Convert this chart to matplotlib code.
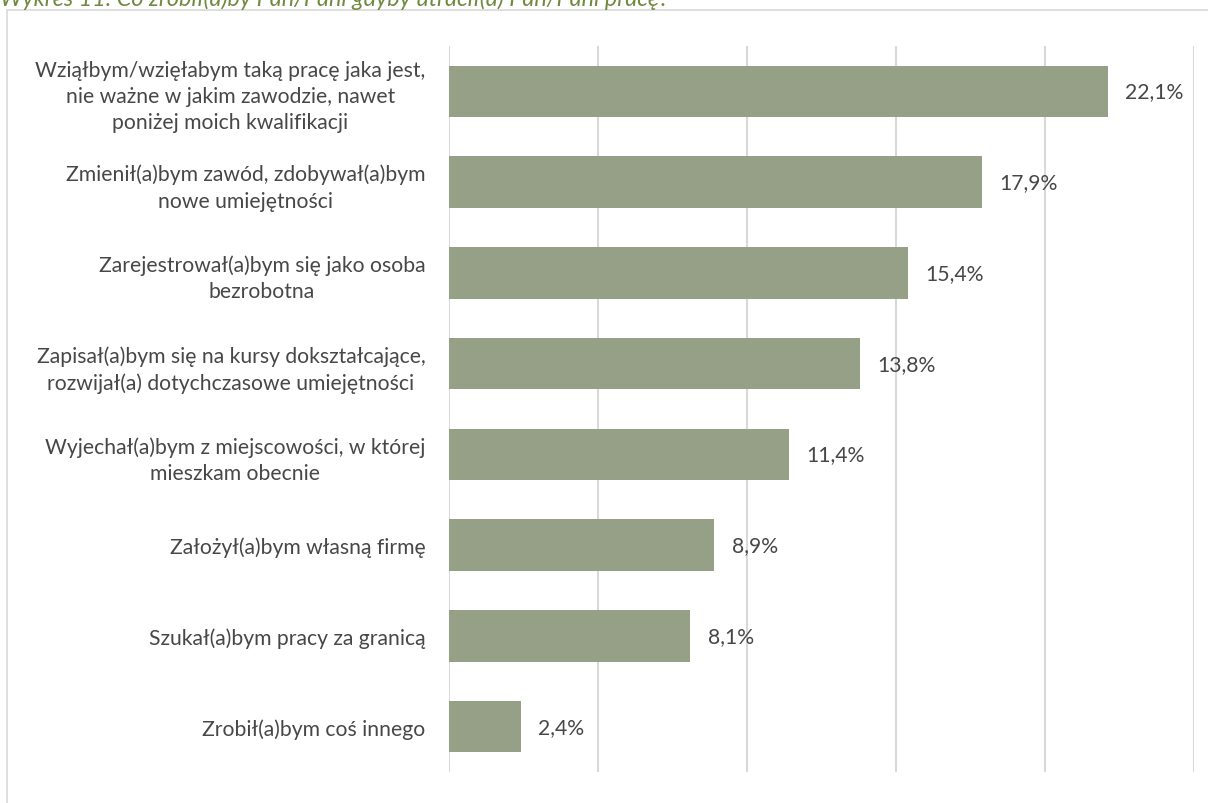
import matplotlib.pyplot as plt
from matplotlib.patches import Rectangle

TITLE = "Wykres 11. Co zrobił(a)by Pan/Pani gdyby utracił(a) Pan/Pani pracę?"

labels = [
    "Wziąłbym/wzięłabym taką pracę jaka jest,\nnie ważne w jakim zawodzie, nawet\nponiżej moich kwalifikacji",
    "Zmienił(a)bym zawód, zdobywał(a)bym\nnowe umiejętności",
    "Zarejestrował(a)bym się jako osoba\nbezrobotna",
    "Zapisał(a)bym się na kursy dokształcające,\nrozwijał(a) dotychczasowe umiejętności",
    "Wyjechał(a)bym z miejscowości, w której\nmieszkam obecnie",
    "Założył(a)bym własną firmę",
    "Szukał(a)bym pracy za granicą",
    "Zrobił(a)bym coś innego",
]
values = [22.1, 17.9, 15.4, 13.8, 11.4, 8.9, 8.1, 2.4]
value_labels = ["22,1%", "17,9%", "15,4%", "13,8%", "11,4%", "8,9%", "8,1%", "2,4%"]
ticks = [0, 5, 10, 15, 20, 25]

BAR_COLOR = "#95A087"
TEXT_COLOR = "#474747"
GRID_COLOR = "#D9D9D9"
FS = 15.2

plt.rcParams['font.family'] = ['Lato', 'DejaVu Sans']

fig = plt.figure(figsize=(12.08, 8.04), dpi=100)

# chart frame
fig.patches.append(Rectangle((7 / 1208, -0.01), 1.0, 1 - 11 / 804 + 0.01,
                             transform=fig.transFigure, fill=False,
                             edgecolor="#D9D9D9", linewidth=1.2))

# title (cut at the top edge, like the source)
fig.text(0.0, 1 - 6 / 804, TITLE, ha="left", va="baseline", fontsize=16.8,
         style="italic", color="#6F8A40")

ax = fig.add_axes([449 / 1208, 1 - 773 / 804, (1194 - 449) / 1208, (773 - 47) / 804])

y = list(range(len(values)))
ax.barh(y, values, height=0.57, color=BAR_COLOR, zorder=3)

for yi, v, txt in zip(y, values, value_labels):
    ax.text(v + 0.58, yi, txt, va="center", ha="left", fontsize=FS,
            color=TEXT_COLOR)

ax.set_xlim(0, 25)
ax.set_ylim(len(values) - 0.5, -0.5)
ax.set_xticks(ticks)
ax.set_xticklabels([])
ax.tick_params(axis="x", length=0)
ax.grid(axis="x", color=GRID_COLOR, linewidth=1.5, zorder=0)
ax.set_yticks(y)
ax.set_yticklabels(labels, fontsize=FS, color=TEXT_COLOR,
                   multialignment="center", linespacing=1.38)
ax.tick_params(axis="y", length=0, pad=17)
for s in ax.spines.values():
    s.set_visible(False)

plt.savefig("out.png", dpi=100)
